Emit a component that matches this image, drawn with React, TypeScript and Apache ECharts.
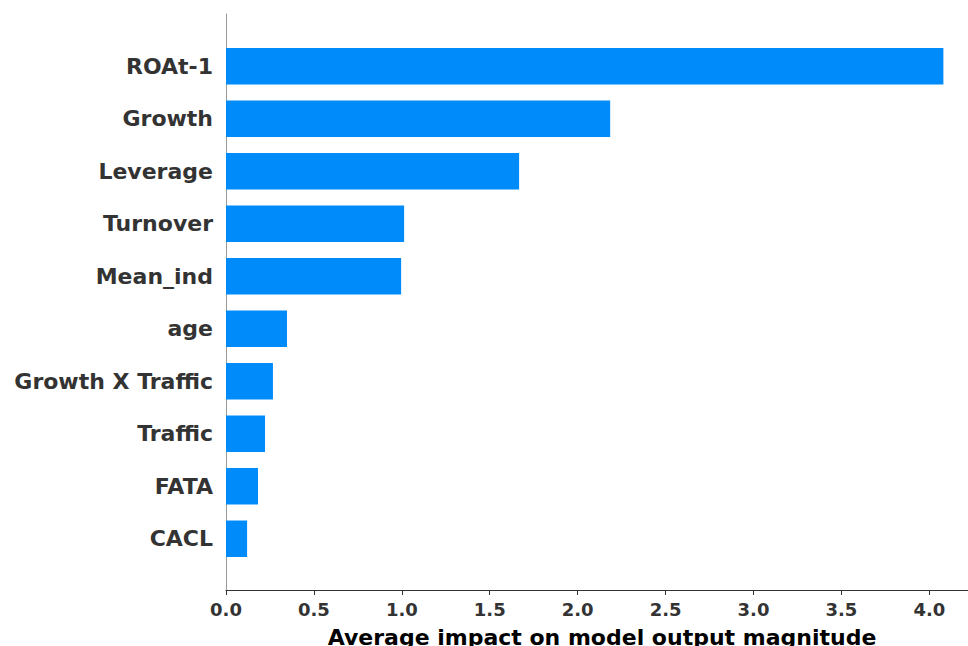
import React, { useEffect, useRef } from "react";
import * as echarts from "echarts";

const features = [
  "ROAt-1",
  "Growth",
  "Leverage",
  "Turnover",
  "Mean_ind",
  "age",
  "Growth X Traffic",
  "Traffic",
  "FATA",
  "CACL",
];
const impacts = [4.08, 2.185, 1.667, 1.013, 0.996, 0.347, 0.267, 0.222, 0.182, 0.12];
const xTicks = [0, 0.5, 1.0, 1.5, 2.0, 2.5, 3.0, 3.5, 4.0];
const xTitle = "Average impact on model output magnitude";

const FONT = "DejaVu Sans";
const BAR = "#008bfb";

export default function App() {
  const ref = useRef<HTMLDivElement>(null);
  useEffect(() => {
    if (!ref.current) return;
    const chart = echarts.init(ref.current, undefined, { renderer: "svg" });
    chart.setOption({
      animation: false,
      backgroundColor: "#ffffff",
      grid: [
        { left: 226, width: 742, top: 40, height: 525, containLabel: false, outerBoundsMode: "none" },
        { left: 226, width: 742, top: 14, height: 576, containLabel: false, outerBoundsMode: "none" },
      ],
      xAxis: [
        {
          type: "value",
          gridIndex: 0,
          min: 0,
          max: 4.22,
          interval: 0.5,
          offset: 25,
          splitLine: { show: false },
          axisLine: { show: true, lineStyle: { color: "#333333", width: 1 } },
          axisTick: {
            show: true,
            length: 5,
            customValues: xTicks,
            lineStyle: { color: "#333333" },
          },
          axisLabel: {
            customValues: xTicks,
            margin: 10,
            fontFamily: FONT,
            fontWeight: "bold",
            fontSize: 18,
            color: "#333333",
            formatter: (v: number) => v.toFixed(1),
          },
          name: xTitle,
          nameLocation: "middle",
          nameGap: 36,
          nameTextStyle: {
            fontFamily: FONT,
            fontWeight: "bold",
            fontSize: 22,
            color: "#000000",
            padding: [0, 0, 0, 10],
          },
        },
        {
          type: "value",
          gridIndex: 1,
          min: 0,
          max: 1,
          show: false,
        },
      ],
      yAxis: [
        {
          type: "category",
          gridIndex: 0,
          data: features,
          inverse: true,
          axisLine: { show: false },
          axisTick: { show: false },
          splitLine: { show: false },
          axisLabel: {
            margin: 13,
            fontFamily: FONT,
            fontWeight: "bold",
            fontSize: 22,
            color: "#333333",
          },
        },
        {
          type: "value",
          gridIndex: 1,
          min: 0,
          max: 1,
          axisLine: { show: true, lineStyle: { color: "#999999", width: 1 } },
          axisTick: { show: false },
          axisLabel: { show: false },
          splitLine: { show: false },
        },
      ],
      series: [
        {
          type: "bar",
          xAxisIndex: 0,
          yAxisIndex: 0,
          data: impacts,
          barWidth: "69.5%",
          itemStyle: { color: BAR },
        },
      ],
    });
    return () => chart.dispose();
  }, []);
  return (
    <div
      ref={ref}
      style={{ position: "fixed", left: 0, top: 0, width: 968, height: 646 }}
    />
  );
}
